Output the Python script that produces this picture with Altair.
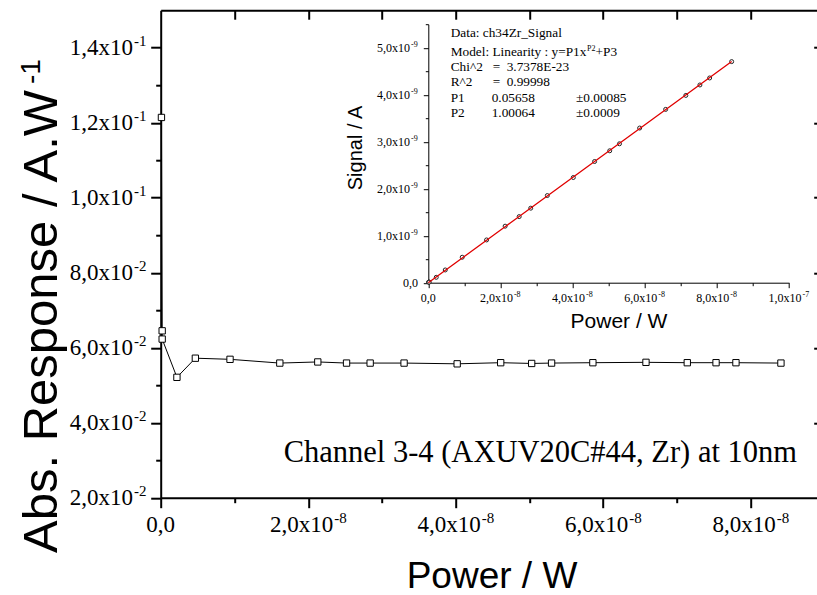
import altair as alt
import numpy as np
import pandas as pd

# ---- measured series: absolute response vs incident power ----
power = [1e-10, 2e-10, 2e-10, 2.2e-9, 4.7e-9, 9.4e-9, 1.615e-8, 2.13e-8, 2.52e-8,
         2.84e-8, 3.30e-8, 4.02e-8, 4.61e-8, 5.03e-8, 5.30e-8, 5.86e-8, 6.58e-8,
         7.14e-8, 7.53e-8, 7.80e-8, 8.41e-8]
response = [0.1214, 0.0645, 0.0623, 0.0521, 0.0572, 0.0569, 0.0559, 0.0562, 0.0559,
            0.0559, 0.0559, 0.0557, 0.0560, 0.0558, 0.0559, 0.0560, 0.0561,
            0.0560, 0.0560, 0.0560, 0.0559]
# photodiode signal (inset)
signal = [0.012e-9, 0.013e-9, 0.012e-9, 0.115e-9, 0.271e-9, 0.542e-9, 0.910e-9,
          1.203e-9, 1.407e-9, 1.586e-9, 1.855e-9, 2.239e-9, 2.580e-9, 2.808e-9,
          2.957e-9, 3.292e-9, 3.689e-9, 3.987e-9, 4.209e-9, 4.358e-9, 4.706e-9]

# fit results for the inset model y = P1*x^P2 + P3
fit_p1, fit_p1_err = 0.05658, 0.00085
fit_p2, fit_p2_err = 1.00064, 0.0009
fit_p3 = 0.0
fit_chi2 = "3.7378E-23"
fit_r2 = "0.99998"

# ---- tick positions and labels ----
main_x_ticks = [2e-8, 4e-8, 6e-8, 8e-8]
main_x_mant = ["2,0x10", "4,0x10", "6,0x10", "8,0x10"]
main_x_exp = ["-8", "-8", "-8", "-8"]
main_x_major = [0, 2e-8, 4e-8, 6e-8, 8e-8]
main_x_minor = [1e-8, 3e-8, 5e-8, 7e-8]
main_x_top = [1e-8, 2e-8, 3e-8, 4e-8, 5e-8, 6e-8, 7e-8, 8e-8]

main_y_ticks = [0.02, 0.04, 0.06, 0.08, 0.10, 0.12, 0.14]
main_y_mant = ["2,0x10", "4,0x10", "6,0x10", "8,0x10", "1,0x10", "1,2x10", "1,4x10"]
main_y_exp = ["-2", "-2", "-2", "-2", "-1", "-1", "-1"]
main_y_minor = [0.03, 0.05, 0.07, 0.09, 0.11, 0.13]
main_y_right = [0.04, 0.06, 0.08, 0.10, 0.12, 0.14]

ins_x_ticks = [2e-8, 4e-8, 6e-8, 8e-8, 1e-7]
ins_x_mant = ["2,0x10", "4,0x10", "6,0x10", "8,0x10", "1,0x10"]
ins_x_exp = ["-8", "-8", "-8", "-8", "-7"]
ins_x_major = [0, 2e-8, 4e-8, 6e-8, 8e-8, 1e-7]
ins_x_minor = [1e-8, 3e-8, 5e-8, 7e-8, 9e-8]

ins_y_ticks = [1e-9, 2e-9, 3e-9, 4e-9, 5e-9]
ins_y_mant = ["1,0x10", "2,0x10", "3,0x10", "4,0x10", "5,0x10"]
ins_y_exp = ["-9", "-9", "-9", "-9", "-9"]
ins_y_major = [0, 1e-9, 2e-9, 3e-9, 4e-9, 5e-9]
ins_y_minor = [0.5e-9, 1.5e-9, 2.5e-9, 3.5e-9, 4.5e-9, 5.5e-9]

# ---- layout (pixels) ----
SERIF = "Liberation Serif"
SANS = "Liberation Sans"
OX, OY = 160.7, 10.2          # plot-area origin on the page
W, H = 656.0, 487.5           # main plot area
X_PER_PX = 1e-8 / 73.75
XMAX = W * X_PER_PX
YMIN, YMAX = 0.02, 0.15

# inset frame (page pixels)
INS_L, INS_R = 428.3, 789.0
INS_B, INS_T = 282.7, 24.3

xs_main = alt.Scale(domain=[0, XMAX], nice=False, zero=False)
ys_main = alt.Scale(domain=[YMIN, YMAX], nice=False, zero=False)
xs_ins = alt.Scale(domain=[0, 1e-7], range=[INS_L - OX, INS_R - OX], nice=False, zero=False)
ys_ins = alt.Scale(domain=[0, 5.5e-9], range=[INS_B - OY, INS_T - OY], nice=False, zero=False)


def ax(orient, values, size, domain=False, offset=0, width=2, ticks=True):
    return alt.Axis(orient=orient, values=values, tickSize=size, tickWidth=width,
                    tickColor="black", ticks=ticks, domain=domain, domainWidth=width,
                    domainColor="black", labels=False, title=None, grid=False,
                    offset=offset)


def note(text, x, y, size, font=SERIF, align="left", angle=0):
    return alt.Chart(pd.DataFrame({"t": [text]})).mark_text(
        text=text, font=font, fontSize=size, align=align, baseline="alphabetic",
        angle=angle, color="black"
    ).encode(x=alt.value(x - OX), y=alt.value(y - OY))


df = pd.DataFrame({"power": power, "response": response, "signal": signal,
                   "order": list(range(len(power)))})

fit_x = np.linspace(0, max(power), 60)
df_fit = pd.DataFrame({"power": fit_x, "signal": fit_p1 * fit_x ** fit_p2 + fit_p3})

layers = []

# main series: connecting line + hollow squares
layers.append(alt.Chart(df).mark_line(color="black", strokeWidth=1).encode(
    x=alt.X("power:Q", scale=xs_main, axis=ax("bottom", main_x_major, 10, domain=True)),
    y=alt.Y("response:Q", scale=ys_main, axis=ax("left", main_y_ticks, 10, domain=True)),
    order="order:Q"))
layers.append(alt.Chart(df).mark_point(shape="square", size=40, filled=True, fill="white",
                                       stroke="black", strokeWidth=1, opacity=1).encode(
    x=alt.X("power:Q", scale=xs_main, axis=ax("bottom", main_x_minor, 5)),
    y=alt.Y("response:Q", scale=ys_main, axis=ax("left", main_y_minor, 5))))

# main tick labels (mantissa + raised exponent)
dfx = pd.DataFrame({"v": main_x_ticks, "m": main_x_mant, "e": main_x_exp})
layers.append(alt.Chart(dfx).mark_text(font=SERIF, fontSize=23, align="right", dx=25,
                                       baseline="alphabetic").encode(
    x=alt.X("v:Q", scale=xs_main, axis=ax("top", [], 0, domain=True, ticks=False)),
    y=alt.value(532 - OY), text="m:N"))
layers.append(alt.Chart(dfx).mark_text(font=SERIF, fontSize=15, align="left", dx=26,
                                       baseline="alphabetic").encode(
    x=alt.X("v:Q", scale=xs_main, axis=ax("top", main_x_top, 9, offset=-9)),
    y=alt.value(523 - OY), text="e:N"))
layers.append(alt.Chart(pd.DataFrame({"v": [0.0]})).mark_text(
    text="0,0", font=SERIF, fontSize=23, align="center", baseline="alphabetic").encode(
    x=alt.X("v:Q", scale=xs_main, axis=None), y=alt.value(532 - OY)))

dfy = pd.DataFrame({"v": main_y_ticks, "m": main_y_mant, "e": main_y_exp})
layers.append(alt.Chart(dfy).mark_text(font=SERIF, fontSize=23, align="right",
                                       baseline="alphabetic", dy=7.5).encode(
    y=alt.Y("v:Q", scale=ys_main, axis=ax("right", main_y_right, 3, offset=-3)),
    x=alt.value(133 - OX), text="m:N"))
layers.append(alt.Chart(dfy).mark_text(font=SERIF, fontSize=15, align="left",
                                       baseline="alphabetic", dy=-1.5).encode(
    y=alt.Y("v:Q", scale=ys_main, axis=None),
    x=alt.value(134 - OX), text="e:N"))

# ---- inset: signal vs power with linear fit ----
layers.append(alt.Chart(df).mark_point(shape="circle", size=16, filled=True, fill="white",
                                       stroke="#222222", strokeWidth=1, opacity=1).encode(
    x=alt.X("power:Q", scale=xs_ins,
            axis=ax("bottom", ins_x_major, 5, domain=True, offset=-(OY + H - INS_B), width=1)),
    y=alt.Y("signal:Q", scale=ys_ins,
            axis=ax("left", ins_y_major, 5, domain=True, offset=-(INS_L - OX), width=1))))
layers.append(alt.Chart(df_fit).mark_line(color="#e00000", strokeWidth=1.3).encode(
    x=alt.X("power:Q", scale=xs_ins,
            axis=ax("bottom", ins_x_minor, 3, offset=-(OY + H - INS_B), width=1)),
    y=alt.Y("signal:Q", scale=ys_ins,
            axis=ax("left", ins_y_minor, 3, offset=-(INS_L - OX), width=1))))

dfix = pd.DataFrame({"v": ins_x_ticks, "m": ins_x_mant, "e": ins_x_exp})
layers.append(alt.Chart(dfix).mark_text(font=SERIF, fontSize=12, align="right", dx=12.5,
                                        baseline="alphabetic").encode(
    x=alt.X("v:Q", scale=xs_ins, axis=None), y=alt.value(302 - OY), text="m:N"))
layers.append(alt.Chart(dfix).mark_text(font=SERIF, fontSize=8, align="left", dx=13.5,
                                        baseline="alphabetic").encode(
    x=alt.X("v:Q", scale=xs_ins, axis=None), y=alt.value(297 - OY), text="e:N"))
layers.append(alt.Chart(pd.DataFrame({"v": [0.0]})).mark_text(
    text="0,0", font=SERIF, fontSize=12, align="center", baseline="alphabetic").encode(
    x=alt.X("v:Q", scale=xs_ins, axis=None), y=alt.value(302 - OY)))

dfiy = pd.DataFrame({"v": ins_y_ticks, "m": ins_y_mant, "e": ins_y_exp})
layers.append(alt.Chart(dfiy).mark_text(font=SERIF, fontSize=12, align="right",
                                        baseline="alphabetic", dy=4).encode(
    y=alt.Y("v:Q", scale=ys_ins, axis=None), x=alt.value(410 - OX), text="m:N"))
layers.append(alt.Chart(dfiy).mark_text(font=SERIF, fontSize=8, align="left",
                                        baseline="alphabetic", dy=-1).encode(
    y=alt.Y("v:Q", scale=ys_ins, axis=None), x=alt.value(411 - OX), text="e:N"))
layers.append(alt.Chart(pd.DataFrame({"v": [0.0]})).mark_text(
    text="0,0", font=SERIF, fontSize=12, align="right", baseline="alphabetic", dy=4).encode(
    y=alt.Y("v:Q", scale=ys_ins, axis=None), x=alt.value(418 - OX)))

# inset fit report
FS = 13.3
layers += [
    note("Data: ch34Zr_Signal", 450.7, 36.7, FS),
    note("Model: Linearity : y=P1x", 450.7, 56, FS),
    note("P2", 587, 50.5, 8),
    note("+P3", 595.5, 56, FS),
    note("Chi^2", 450.7, 71, FS), note("=", 492.7, 71, FS), note(fit_chi2, 506.7, 71, FS),
    note("R^2", 450.7, 86, FS), note("=", 492.7, 86, FS), note(fit_r2, 506.7, 86, FS),
    note("P1", 450.7, 102.3, FS), note(f"{fit_p1:.5f}", 491.7, 102.3, FS),
    note(f"\u00b1{fit_p1_err:.5f}", 576, 102.3, FS),
    note("P2", 450.7, 117.3, FS), note(f"{fit_p2:.5f}", 491.7, 117.3, FS),
    note(f"\u00b1{fit_p2_err:.4f}", 576, 117.3, FS),
]

# inset axis titles
layers.append(note("Signal / A", 362, 148, 20, font=SANS, align="center", angle=270))
layers.append(note("Power / W", 619, 328, 21, font=SANS, align="center"))

# main axis titles and annotation
layers.append(note("Abs. Response / A.W", 57, 553, 49, font=SANS, align="left", angle=270))
layers.append(note("-1", 40, 84, 28, font=SANS, align="left", angle=270))
layers.append(note("Power / W", 492, 588, 37, font=SANS, align="center"))
layers.append(note("Channel 3-4 (AXUV20C#44, Zr) at 10nm", 797, 462, 30.5, font=SERIF,
                   align="right"))

chart = alt.layer(*layers).properties(
    width=W, height=H,
    autosize=alt.AutoSizeParams(type="none"),
    padding={"left": OX, "top": OY, "right": 817 - OX - W, "bottom": 595 - OY - H},
    background="white",
).resolve_scale(x="independent", y="independent").resolve_axis(
    x="independent", y="independent"
).configure_view(stroke=None)

chart.save("out.html", embed_options={"renderer": "svg", "actions": False})
